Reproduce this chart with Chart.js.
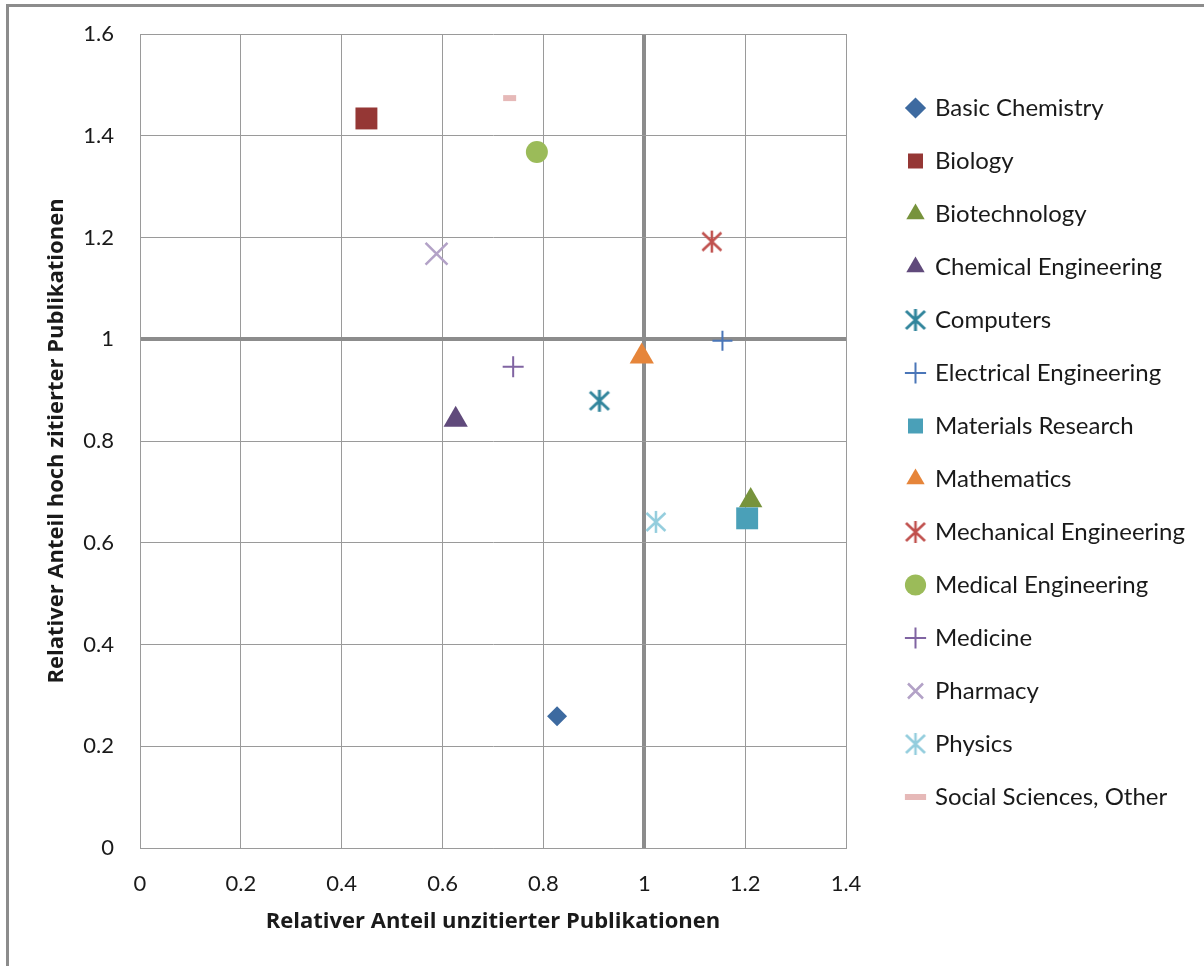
<!DOCTYPE html>
<html>
<head>
<meta charset="utf-8">
<script src="https://cdn.jsdelivr.net/npm/chart.js@4.4.0/dist/chart.umd.min.js"></script>
<style>
  html, body { margin: 0; padding: 0; background: #fff; }
  #wrap { position: relative; width: 1204px; height: 966px; overflow: hidden; }
  #frame {
    position: absolute; left: 6px; top: 4px; right: -10px; bottom: -10px;
    border-top: 3px solid #8c8c8c; border-left: 3px solid #8c8c8c;
    pointer-events: none;
  }
  #pubChart { position: absolute; left: 0; top: 0; }
</style>
</head>
<body>
<div id="wrap">
  <canvas id="pubChart" width="1204" height="966"></canvas>
  <div id="frame"></div>
</div>
<script>
  // fields and their values: x = share of uncited, y = share of highly cited
  const fields = [
    "Basic Chemistry", "Biology", "Biotechnology", "Chemical Engineering",
    "Computers", "Electrical Engineering", "Materials Research", "Mathematics",
    "Mechanical Engineering", "Medical Engineering", "Medicine", "Pharmacy",
    "Physics", "Social Sciences, Other"
  ];
  const uncitedShare = [0.827, 0.449, 1.211, 0.626, 0.911, 1.155, 1.204, 0.995, 1.134, 0.787, 0.740, 0.588, 1.023, 0.733];
  const highlyCitedShare = [0.259, 1.434, 0.683, 0.842, 0.879, 0.997, 0.648, 0.966, 1.192, 1.368, 0.946, 1.168, 0.641, 1.474];

  const xTicks = [0, 0.2, 0.4, 0.6, 0.8, 1, 1.2, 1.4];
  const yTicks = [0, 0.2, 0.4, 0.6, 0.8, 1, 1.2, 1.4, 1.6];
  const xTickLabels = ["0", "0.2", "0.4", "0.6", "0.8", "1", "1.2", "1.4"];
  const yTickLabels = ["0", "0.2", "0.4", "0.6", "0.8", "1", "1.2", "1.4", "1.6"];

  const xTitle = "Relativer Anteil unzitierter Publikationen";
  const yTitle = "Relativer Anteil hoch zitierter Publikationen";

  // where the legend column starts (marker box left, first row top)
  const LEGEND_X = 908;
  const LEGEND_Y = 96;

  // six-armed asterisk (vertical stroke plus an X), drawn once per colour
  function asterisk(color, lw) {
    const c = document.createElement("canvas");
    const s = 24;
    c.width = s; c.height = s;
    const g = c.getContext("2d");
    const m = s / 2, r = 11, dx = 9.5, dy = 9;
    g.strokeStyle = color;
    g.lineWidth = lw;
    g.beginPath();
    g.moveTo(m, m - r); g.lineTo(m, m + r);
    g.moveTo(m - dx, m - dy); g.lineTo(m + dx, m + dy);
    g.moveTo(m + dx, m - dy); g.lineTo(m - dx, m + dy);
    g.stroke();
    return c;
  }

  const markers = [
    { style: "rectRot",  color: "#3d6aa0", r: 10 },
    { style: "rect",     color: "#953735", r: 15.5 },
    { style: "triangle", color: "#77933c", r: 13.5 },
    { style: "triangle", color: "#604a7b", r: 14 },
    { style: asterisk("#31859c", 3), color: "#31859c", r: 12 },
    { style: "cross",    color: "#4a76b8", r: 10, bw: 2 },
    { style: "rect",     color: "#4aa0b8", r: 15.5 },
    { style: "triangle", color: "#e6853a", r: 14 },
    { style: asterisk("#c0504d", 2.5), color: "#c0504d", r: 12 },
    { style: "circle",   color: "#9bbb59", r: 11 },
    { style: "cross",    color: "#8064a2", r: 10.5, bw: 2 },
    { style: "crossRot", color: "#b3a2c7", r: 15.5, bw: 2.5 },
    { style: asterisk("#93cddd", 2.5), color: "#93cddd", r: 12 },
    { style: "line",     color: "#e6b9b8", r: 6.5, bw: 6 }
  ];

  const datasets = fields.map((name, i) => {
    const m = markers[i];
    const stroked = ["cross", "crossRot", "line"].includes(m.style);
    return {
      label: name,
      data: [{ x: uncitedShare[i], y: highlyCitedShare[i] }],
      pointStyle: m.style,
      pointRadius: m.r,
      pointHoverRadius: m.r,
      backgroundColor: m.color,
      borderColor: m.color,
      borderWidth: stroked ? m.bw : 0,
      pointBorderWidth: stroked ? m.bw : 0,
      // later series are painted over earlier ones
      order: -i
    };
  });

  // move the legend column to a fixed spot beside the plot
  const legendPlacer = {
    id: "legendPlacer",
    afterLayout(chart) {
      const lg = chart.legend;
      if (!lg) return;
      const pad = lg.options.labels.padding;
      const h = lg.height;
      lg.left = LEGEND_X - pad;
      lg.right = chart.width;
      lg.width = lg.right - lg.left;
      lg.top = LEGEND_Y - pad;
      lg.bottom = lg.top + h;
    }
  };

  const gridGray = "#9a9a9a";
  const axisGray = "#8c8c8c";
  const mainFont = "Lato, 'Open Sans', sans-serif";
  const titleFont = "'Open Sans', Lato, sans-serif";

  new Chart(document.getElementById("pubChart"), {
    type: "scatter",
    data: { datasets },
    plugins: [legendPlacer],
    options: {
      responsive: false,
      animation: false,
      layout: { padding: { left: 10, right: 58, top: 34, bottom: 18 } },
      plugins: {
        tooltip: { enabled: false },
        legend: {
          position: "right",
          align: "start",
          maxWidth: 300,
          labels: {
            usePointStyle: true,
            boxHeight: 15,
            boxWidth: 15,
            padding: 29,
            color: "#1a1a1a",
            font: { family: mainFont, size: 24 },
            sort: (a, b) => a.datasetIndex - b.datasetIndex
          }
        }
      },
      scales: {
        x: {
          type: "linear",
          min: 0, max: 1.4,
          afterBuildTicks: (s) => { s.ticks = xTicks.map((v) => ({ value: v })); },
          afterFit: (s) => { s.height = 100; },
          ticks: {
            padding: 23,
            color: "#1a1a1a",
            font: { family: mainFont, size: 22 },
            callback: (v) => xTickLabels[xTicks.indexOf(v)]
          },
          grid: {
            drawTicks: false,
            color: (c) => (c.tick && c.tick.value === 1 ? axisGray : gridGray),
            lineWidth: (c) => (c.tick && c.tick.value === 1 ? 4 : 1)
          },
          border: { display: true, color: gridGray, width: 1 },
          title: {
            display: true,
            text: xTitle,
            color: "#1a1a1a",
            padding: { top: 0, bottom: 13 },
            font: { family: titleFont, size: 22, weight: "bold" }
          }
        },
        y: {
          type: "linear",
          min: 0, max: 1.6,
          afterBuildTicks: (s) => { s.ticks = yTicks.map((v) => ({ value: v })); },
          afterFit: (s) => { s.width = 130; s.paddingTop = 0; },
          ticks: {
            padding: 26,
            color: "#1a1a1a",
            font: { family: mainFont, size: 22 },
            callback: (v) => yTickLabels[yTicks.indexOf(v)]
          },
          grid: {
            drawTicks: false,
            color: (c) => (c.tick && c.tick.value === 1 ? axisGray : gridGray),
            lineWidth: (c) => (c.tick && c.tick.value === 1 ? 4 : 1)
          },
          border: { display: true, color: gridGray, width: 1 },
          title: {
            display: true,
            text: yTitle,
            color: "#1a1a1a",
            padding: { top: 34, bottom: 0 },
            font: { family: titleFont, size: 22, weight: "bold" }
          }
        }
      }
    }
  });
</script>
</body>
</html>
